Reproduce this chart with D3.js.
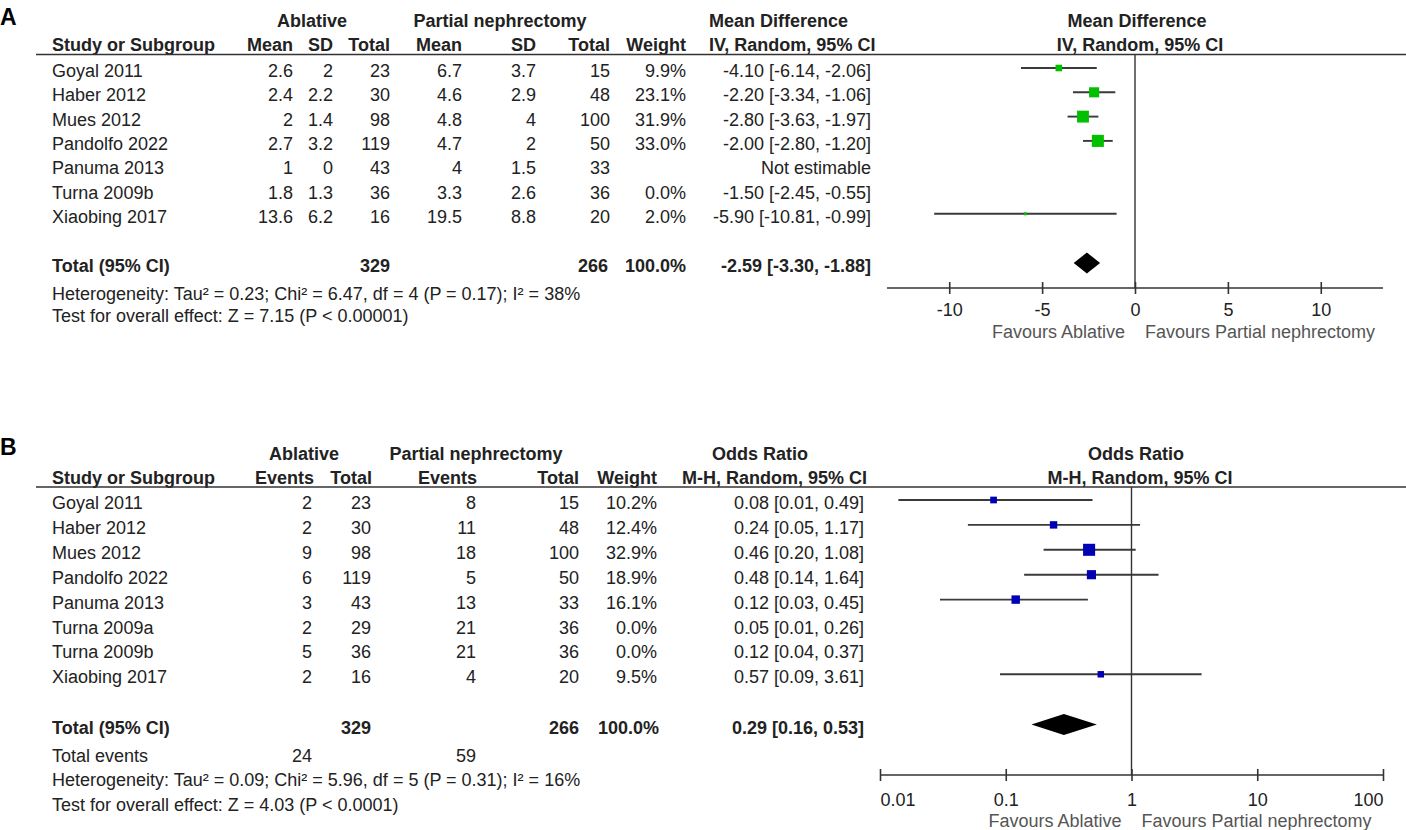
<!DOCTYPE html>
<html>
<head>
<meta charset="utf-8">
<script src="https://cdn.jsdelivr.net/npm/d3@7"></script>
<style>
  body { margin: 0; background: #fff; }
  svg text { font-family: "Liberation Sans", Arial, sans-serif; font-size: 18px; fill: #222; }
  .bold { font-weight: bold; }
  .fav { fill: #555; }
</style>
</head>
<body>
<svg id="chart" width="1406" height="830"></svg>
<script>
// ---------- DATA: panel A (mean difference) ----------
const studiesA = ["Goyal 2011", "Haber 2012", "Mues 2012", "Pandolfo 2022", "Panuma 2013", "Turna 2009b", "Xiaobing 2017"];
const ablMeanA = [2.6, 2.4, 2, 2.7, 1, 1.8, 13.6];
const ablSdA = [2, 2.2, 1.4, 3.2, 0, 1.3, 6.2];
const ablTotalA = [23, 30, 98, 119, 43, 36, 16];
const pnMeanA = [6.7, 4.6, 4.8, 4.7, 4, 3.3, 19.5];
const pnSdA = [3.7, 2.9, 4, 2, 1.5, 2.6, 8.8];
const pnTotalA = [15, 48, 100, 50, 33, 36, 20];
const weightA = [9.9, 23.1, 31.9, 33.0, null, 0.0, 2.0];
const mdA = [-4.10, -2.20, -2.80, -2.00, null, -1.50, -5.90];
const mdLowA = [-6.14, -3.34, -3.63, -2.80, null, -2.45, -10.81];
const mdHighA = [-2.06, -1.06, -1.97, -1.20, null, -0.55, -0.99];
const pooledA = [-2.59, -3.30, -1.88];   // estimate, lower, upper
const sumTotalsA = [329, 266];
const hetA = "Heterogeneity: Tau² = 0.23; Chi² = 6.47, df = 4 (P = 0.17); I² = 38%";
const testA = "Test for overall effect: Z = 7.15 (P < 0.00001)";
const ticksA = [-10, -5, 0, 5, 10];

// ---------- DATA: panel B (odds ratio) ----------
const studiesB = ["Goyal 2011", "Haber 2012", "Mues 2012", "Pandolfo 2022", "Panuma 2013", "Turna 2009a", "Turna 2009b", "Xiaobing 2017"];
const ablEventsB = [2, 2, 9, 6, 3, 2, 5, 2];
const ablTotalB = [23, 30, 98, 119, 43, 29, 36, 16];
const pnEventsB = [8, 11, 18, 5, 13, 21, 21, 4];
const pnTotalB = [15, 48, 100, 50, 33, 36, 36, 20];
const weightB = [10.2, 12.4, 32.9, 18.9, 16.1, 0.0, 0.0, 9.5];
const orB = [0.08, 0.24, 0.46, 0.48, 0.12, 0.05, 0.12, 0.57];
const orLowB = [0.014, 0.05, 0.20, 0.14, 0.03, 0.01, 0.04, 0.09];
const orHighB = [0.49, 1.17, 1.08, 1.64, 0.45, 0.26, 0.37, 3.61];
const pooledB = [0.29, 0.16, 0.53];
const sumTotalsB = [329, 266];
const totalEventsB = [24, 59];
const hetB = "Heterogeneity: Tau² = 0.09; Chi² = 5.96, df = 5 (P = 0.31); I² = 16%";
const testB = "Test for overall effect: Z = 4.03 (P < 0.0001)";
const ticksB = [0.01, 0.1, 1, 10, 100];

const svg = d3.select("#chart");
svg.append("rect").attr("width", 1406).attr("height", 830).attr("fill", "#fff");

const f2 = v => v.toFixed(2);
const ciText = (e, lo, hi) => `${f2(e)} [${f2(lo)}, ${f2(hi)}]`;

// square side grows with sqrt(weight)
const size = d3.scaleSqrt().domain([0, 100]).range([0, 21]);

function txt(g, x, y, s, anchor, cls) {
  return g.append("text")
    .attr("x", x).attr("y", y)
    .attr("text-anchor", anchor || "start")
    .attr("class", cls || null)
    .text(s);
}

// one forest plot panel
function drawPanel(p) {
  const g = svg.append("g");

  // panel letter
  g.append("text").attr("x", 0).attr("y", p.letterY)
    .style("font-size", "23px").style("font-weight", "bold").style("fill", "#000")
    .text(p.letter);

  // header rows
  p.head1.forEach(h => txt(g, h[1], p.h1Y, h[0], h[2], "bold"));
  p.head2.forEach(h => txt(g, h[1], p.h2Y, h[0], h[2], "bold"));

  g.append("line")
    .attr("x1", 36).attr("x2", 1406)
    .attr("y1", p.ruleY).attr("y2", p.ruleY)
    .attr("stroke", "#333").attr("stroke-width", 1.5);

  // scale
  const x = p.scale.range(p.range);

  // study rows
  p.studies.forEach((s, i) => {
    const yb = p.row0 + i * p.rowStep;
    txt(g, 52, yb, s);
    p.cols.forEach(c => txt(g, c.x, yb, c.fmt(c.data[i], i), "end"));
    if (p.est[i] == null) {
      txt(g, p.ciX, yb, "Not estimable", "end");
      return;
    }
    txt(g, p.ciX, yb, ciText(p.est[i], p.low[i], p.high[i]), "end");
    if (!(p.weight[i] > 0)) return;
    const ym = yb - 9;
    g.append("line")
      .attr("x1", x(p.low[i])).attr("x2", x(p.high[i]))
      .attr("y1", ym).attr("y2", ym)
      .attr("stroke", "#3a3a3a").attr("stroke-width", 1.9);
    const side = size(p.weight[i]);
    g.append("rect")
      .attr("x", x(p.est[i]) - side / 2).attr("y", ym - side / 2)
      .attr("width", side).attr("height", side)
      .attr("fill", p.color);
  });

  // total row
  txt(g, 52, p.totalY, "Total (95% CI)", "start", "bold");
  txt(g, p.totalCols[0], p.totalY, p.sumTotals[0], "end", "bold");
  txt(g, p.totalCols[1], p.totalY, p.sumTotals[1], "end", "bold");
  txt(g, p.totalCols[2], p.totalY, "100.0%", "end", "bold");
  txt(g, p.ciX, p.totalY, ciText(...p.pooled), "end", "bold");

  const yd = p.totalY - 9;
  const dia = [
    [x(p.pooled[1]), yd], [x(p.pooled[0]), yd - 10.5],
    [x(p.pooled[2]), yd], [x(p.pooled[0]), yd + 10.5]
  ];
  g.append("polygon").attr("points", dia.map(d => d.join(",")).join(" ")).attr("fill", "#000");

  if (p.totalEvents) {
    txt(g, 52, p.eventsY, "Total events");
    txt(g, p.eventCols[0], p.eventsY, p.totalEvents[0], "end");
    txt(g, p.eventCols[1], p.eventsY, p.totalEvents[1], "end");
  }
  txt(g, 52, p.hetY, p.het);
  txt(g, 52, p.testY, p.test);

  // null-effect line
  g.append("line")
    .attr("x1", x(p.nullValue)).attr("x2", x(p.nullValue))
    .attr("y1", p.ruleY).attr("y2", p.axisY)
    .attr("stroke", "#333").attr("stroke-width", 1.4);

  // axis
  g.append("line")
    .attr("x1", p.range[0]).attr("x2", p.range[1])
    .attr("y1", p.axisY).attr("y2", p.axisY)
    .attr("stroke", "#333").attr("stroke-width", 1.6);

  const ax = g.append("g")
    .attr("transform", `translate(0,${p.axisY - 6})`)
    .call(d3.axisBottom(x)
      .tickValues(p.ticks)
      .tickSize(12)
      .tickPadding(p.tickPad)
      .tickFormat(d => String(d)));
  ax.select(".domain").remove();
  ax.selectAll(".tick line").attr("stroke", "#333").attr("stroke-width", 1.6);
  ax.selectAll(".tick text")
    .attr("font-family", null).attr("font-size", null)
    .style("fill", "#222");
  if (p.edgeAnchor) {
    const n = p.ticks.length;
    ax.selectAll(".tick text").attr("text-anchor", (d, i) => i === 0 ? "start" : i === n - 1 ? "end" : "middle");
  }

  const xn = x(p.nullValue);
  txt(g, xn - 10, p.favY, "Favours Ablative", "end", "fav");
  txt(g, xn + 10, p.favY, "Favours Partial nephrectomy", "start", "fav");
}

const n1 = v => String(v);
const pct = v => v == null ? "" : v.toFixed(1) + "%";

// 1: PANEL A
drawPanel({
  letter: "A", letterY: 25,
  h1Y: 27, h2Y: 51, ruleY: 54.5,
  head1: [["Ablative", 312, "middle"], ["Partial nephrectomy", 500, "middle"],
          ["Mean Difference", 709, "start"], ["Mean Difference", 1137, "middle"]],
  head2: [["Study or Subgroup", 52, "start"], ["Mean", 293, "end"], ["SD", 333, "end"],
          ["Total", 390, "end"], ["Mean", 462, "end"], ["SD", 536, "end"],
          ["Total", 610, "end"], ["Weight", 686, "end"],
          ["IV, Random, 95% CI", 709, "start"], ["IV, Random, 95% CI", 1140, "middle"]],
  studies: studiesA,
  cols: [
    { x: 293, data: ablMeanA, fmt: n1 }, { x: 333, data: ablSdA, fmt: n1 },
    { x: 390, data: ablTotalA, fmt: n1 }, { x: 462, data: pnMeanA, fmt: n1 },
    { x: 536, data: pnSdA, fmt: n1 }, { x: 610, data: pnTotalA, fmt: n1 },
    { x: 686, data: weightA, fmt: pct }
  ],
  est: mdA, low: mdLowA, high: mdHighA, weight: weightA,
  ciX: 871, row0: 77, rowStep: 24.3,
  totalY: 272, totalCols: [390, 608, 686], sumTotals: sumTotalsA, pooled: pooledA,
  het: hetA, test: testA, hetY: 300, testY: 322,
  scale: d3.scaleLinear().domain([-13.35, 13.35]), range: [887, 1383],
  nullValue: 0, ticks: ticksA, axisY: 288, tickPad: 9, favY: 338,
  color: "#00c000"
});

// 2: PANEL B
drawPanel({
  letter: "B", letterY: 455,
  h1Y: 460, h2Y: 484, ruleY: 487,
  head1: [["Ablative", 304, "middle"], ["Partial nephrectomy", 476, "middle"],
          ["Odds Ratio", 712, "start"], ["Odds Ratio", 1136, "middle"]],
  head2: [["Study or Subgroup", 52, "start"], ["Events", 314, "end"], ["Total", 372, "end"],
          ["Events", 477, "end"], ["Total", 579, "end"], ["Weight", 657, "end"],
          ["M-H, Random, 95% CI", 682, "start"], ["M-H, Random, 95% CI", 1140, "middle"]],
  studies: studiesB,
  cols: [
    { x: 312, data: ablEventsB, fmt: n1 }, { x: 371, data: ablTotalB, fmt: n1 },
    { x: 476, data: pnEventsB, fmt: n1 }, { x: 579, data: pnTotalB, fmt: n1 },
    { x: 657, data: weightB, fmt: pct }
  ],
  est: orB, low: orLowB, high: orHighB, weight: weightB,
  ciX: 864, row0: 509, rowStep: 24.9,
  totalY: 733.5, totalCols: [371, 579, 659], sumTotals: sumTotalsB, pooled: pooledB,
  totalEvents: totalEventsB, eventCols: [312, 476], eventsY: 762,
  het: hetB, test: testB, hetY: 786, testY: 811,
  scale: d3.scaleLog().domain([0.01, 100]), range: [880, 1383],
  nullValue: 1, ticks: ticksB, axisY: 775, tickPad: 12, favY: 827, edgeAnchor: true,
  color: "#0000b4"
});
</script>
</body>
</html>
